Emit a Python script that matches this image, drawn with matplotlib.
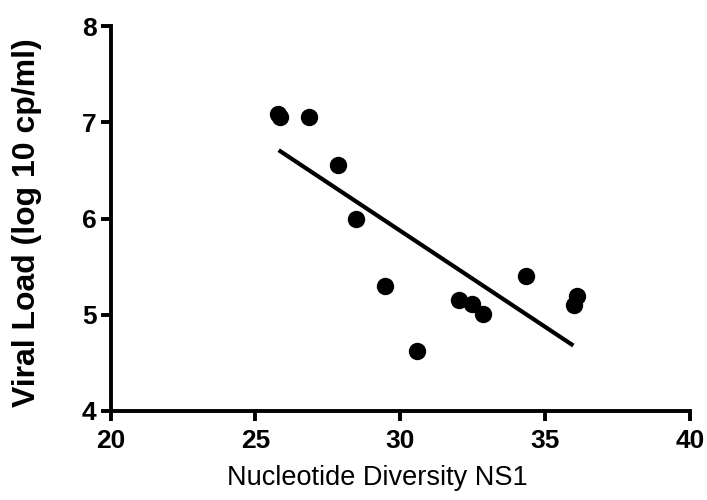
import matplotlib
matplotlib.use("Agg")
import matplotlib.pyplot as plt

plt.rcParams["font.family"] = ["Liberation Sans", "DejaVu Sans"]

# data
diversity = [25.79, 25.85, 26.86, 27.86, 28.47, 29.47, 30.56, 32.03, 32.45, 32.86, 34.33, 35.98, 36.09]
viral_load = [7.09, 7.05, 7.05, 6.56, 6.00, 5.30, 4.62, 5.15, 5.11, 5.01, 5.40, 5.10, 5.20]
fit_x = [25.8, 35.96]
fit_y = [6.71, 4.68]

xticks = [20, 25, 30, 35, 40]
yticks = [4, 5, 6, 7, 8]

fig = plt.figure(figsize=(7.07, 5.0), dpi=100)
ax = fig.add_axes([0.1563, 0.178, 0.8203, 0.77])

ax.plot(fit_x, fit_y, color="black", linewidth=3, solid_capstyle="butt")
ax.plot(diversity, viral_load, "o", color="black", markersize=11.5, clip_on=False)

ax.set_xlim(20, 40); ax.set_ylim(4, 8)
ax.set_xticks(xticks); ax.set_yticks(yticks)
for side in ["top", "right"]:
    ax.spines[side].set_visible(False)
for side in ["left", "bottom"]:
    ax.spines[side].set_linewidth(2.8)
ax.tick_params(width=2.8, length=7, direction="out", labelsize=19)
ax.tick_params(axis="x", pad=6)
ax.tick_params(axis="y", pad=3)
for lab in ax.get_xticklabels() + ax.get_yticklabels():
    lab.set_fontweight("bold")

ax.set_xlabel("Nucleotide Diversity NS1", fontsize=19.5)
ax.set_ylabel("Viral Load (log 10 cp/ml)", fontsize=23, fontweight="bold")
ax.xaxis.set_label_coords(0.461, -0.14)
ax.yaxis.set_label_coords(-0.118, 0.49)

fig.savefig("out.png", dpi=100)
